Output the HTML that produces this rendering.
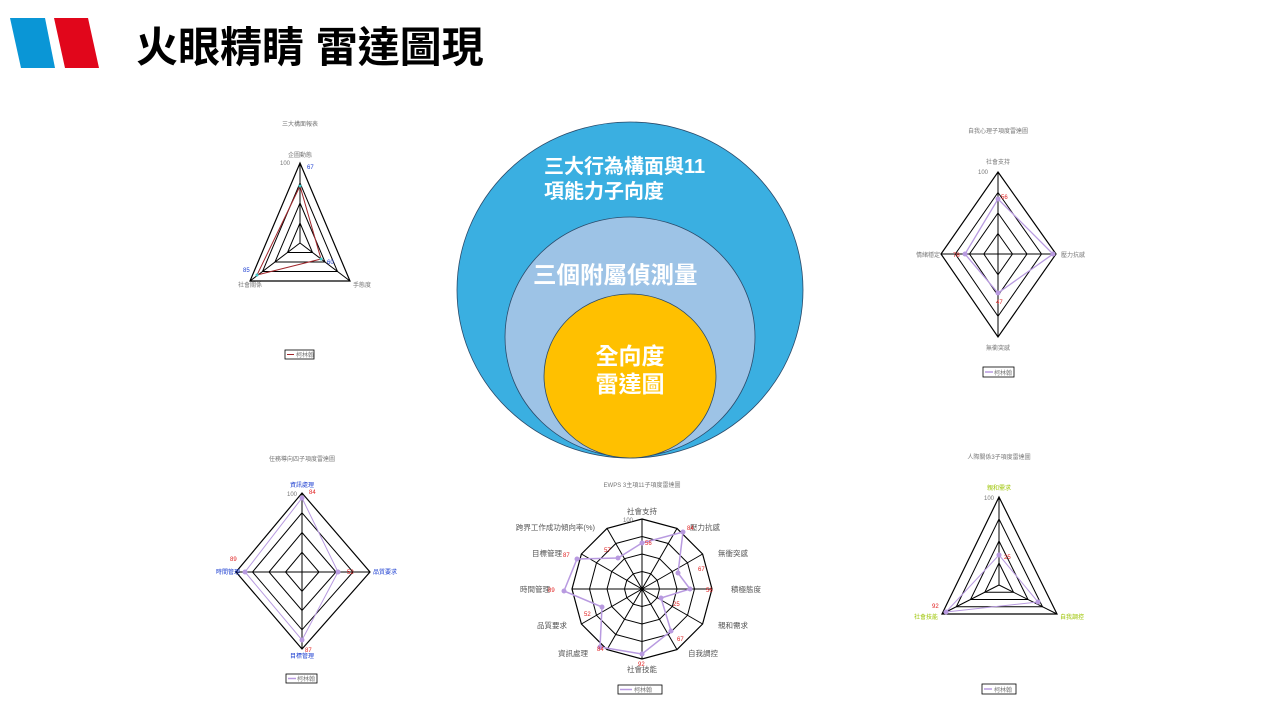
<!DOCTYPE html>
<html><head><meta charset="utf-8"><style>
html,body{margin:0;padding:0;background:#fff;width:1280px;height:720px;overflow:hidden}
svg{display:block}
.t{font-family:"Liberation Sans","Noto Sans CJK TC",sans-serif;}
.s{font-family:"Liberation Sans","Noto Sans CJK TC",sans-serif;font-size:6px;fill:#777}
.m{font-family:"Liberation Sans","Noto Sans CJK TC",sans-serif;font-size:7.5px;fill:#555}
.r{font-family:"Liberation Sans",sans-serif;font-size:6px;fill:#e02020}
.b{font-family:"Liberation Sans","Noto Sans CJK TC",sans-serif;font-size:6px;fill:#1a3cd0}
.y{font-family:"Liberation Sans","Noto Sans CJK TC",sans-serif;font-size:6px;fill:#9cc400}
.w{font-family:"Liberation Sans","Noto Sans CJK TC",sans-serif;font-weight:bold;fill:#fff}
</style></head><body>
<svg id="s" width="1280" height="720" viewBox="0 0 1280 720" xmlns="http://www.w3.org/2000/svg">
<polygon points="10,18 45,18 55,68 21,68" fill="#0a96d6"/>
<polygon points="54,18 88,18 99,68 65,68" fill="#e1061b"/>
<text class="t" x="136" y="62" font-size="42" font-weight="bold" fill="#000">火眼精睛 雷達圖現</text>

<ellipse cx="630" cy="290" rx="173" ry="168" fill="#3aafe1" stroke="#2a4a6a" stroke-width="0.8"/>
<ellipse cx="630" cy="337" rx="125" ry="120" fill="#9dc3e6" stroke="#2a4a6a" stroke-width="0.8"/>
<ellipse cx="630" cy="376" rx="86" ry="82" fill="#ffc000" stroke="#2a4a6a" stroke-width="0.8"/>
<text class="w" x="544" y="173" font-size="20">三大行為構面與11</text>
<text class="w" x="544" y="198" font-size="20">項能力子向度</text>
<text class="w" x="533" y="283" font-size="23.5">三個附屬偵測量</text>
<text class="w" x="630" y="364" font-size="23" text-anchor="middle">全向度</text>
<text class="w" x="630" y="392" font-size="23" text-anchor="middle">雷達圖</text>

<g id="g"></g>

<text class="s" x="300" y="126" text-anchor="middle">三大構面報表</text>
<text class="s" x="300" y="157" text-anchor="middle">企圖動態</text>
<text class="s" x="290" y="165" text-anchor="end">100</text>
<text class="b" x="307" y="169">67</text>
<text class="s" x="238" y="287">社會關係</text>
<text class="s" x="353" y="287">手態度</text>
<text class="b" x="243" y="272">85</text>
<text class="b" x="327" y="264">60</text>
<rect x="285" y="350" width="29" height="9" fill="#fff" stroke="#000" stroke-width="0.8"/>
<line x1="287" y1="354.5" x2="294" y2="354.5" stroke="#a0252a"/>
<text class="s" x="296" y="357">柯林翰</text>

<text class="s" x="998" y="133" text-anchor="middle">自我心理子項度雷達圖</text>
<text class="s" x="998" y="164" text-anchor="middle">社會支持</text>
<text class="s" x="988" y="174" text-anchor="end">100</text>
<text class="s" x="1061" y="257">壓力抗感</text>
<text class="s" x="916" y="257">情緒穩定</text>
<text class="s" x="998" y="350" text-anchor="middle">無衝突感</text>
<text class="r" x="1001" y="199">56</text>
<text class="r" x="953" y="257">78</text>
<text class="r" x="996" y="304">47</text>
<rect x="983" y="367" width="31" height="10" fill="#fff" stroke="#000" stroke-width="0.8"/>
<line x1="985" y1="372" x2="993" y2="372" stroke="#b89ae0" stroke-width="1.5"/>
<text class="s" x="994" y="375">柯林翰</text>

<text class="s" x="302" y="461" text-anchor="middle">任務導向四子項度雷達圖</text>
<text class="b" x="302" y="487" text-anchor="middle">資訊處理</text>
<text class="s" x="297" y="496" text-anchor="end">100</text>
<text class="r" x="309" y="494">84</text>
<text class="b" x="373" y="574">品質要求</text>
<text class="b" x="216" y="574">時間管理</text>
<text class="r" x="230" y="561">89</text>
<text class="r" x="347" y="574">52</text>
<text class="b" x="302" y="658" text-anchor="middle">目標管理</text>
<text class="r" x="305" y="652">87</text>
<rect x="286" y="674" width="31" height="9" fill="#fff" stroke="#000" stroke-width="0.8"/>
<line x1="288" y1="678.5" x2="296" y2="678.5" stroke="#b89ae0" stroke-width="1.5"/>
<text class="s" x="297" y="681">柯林翰</text>

<text class="s" x="999" y="459" text-anchor="middle">人際關係3子項度雷達圖</text>
<text class="y" x="999" y="490" text-anchor="middle">親和需求</text>
<text class="s" x="994" y="500" text-anchor="end">100</text>
<text class="y" x="1060" y="619">自我調控</text>
<text class="y" x="914" y="619">社會技能</text>
<text class="r" x="1004" y="559">25</text>
<text class="r" x="932" y="608">92</text>
<rect x="982" y="684" width="34" height="10" fill="#fff" stroke="#000" stroke-width="0.8"/>
<line x1="984" y1="689" x2="992" y2="689" stroke="#b89ae0" stroke-width="1.5"/>
<text class="s" x="994" y="692">柯林翰</text>

<text class="s" x="642" y="487" text-anchor="middle">EWPS 3主項11子項度雷達圖</text>
<text class="m" x="642" y="514" text-anchor="middle">社會支持</text>
<text class="m" x="690" y="530">壓力抗感</text>
<text class="m" x="718" y="556">無衝突感</text>
<text class="m" x="731" y="592">積極態度</text>
<text class="m" x="718" y="628">親和需求</text>
<text class="m" x="688" y="656">自我調控</text>
<text class="m" x="642" y="672" text-anchor="middle">社會技能</text>
<text class="m" x="588" y="656" text-anchor="end">資訊處理</text>
<text class="m" x="567" y="628" text-anchor="end">品質要求</text>
<text class="m" x="550" y="592" text-anchor="end">時間管理</text>
<text class="m" x="562" y="556" text-anchor="end">目標管理</text>
<text class="m" x="595" y="530" text-anchor="end">跨界工作成功傾向率(%)</text>
<text class="s" x="633" y="522" text-anchor="end">100</text>
<text class="r" x="645" y="545">56</text>
<text class="r" x="687" y="530">84</text>
<text class="r" x="698" y="571">67</text>
<text class="r" x="706" y="592">56</text>
<text class="r" x="673" y="606">25</text>
<text class="r" x="677" y="641">67</text>
<text class="r" x="638" y="666">92</text>
<text class="r" x="597" y="651">84</text>
<text class="r" x="584" y="616">52</text>
<text class="r" x="548" y="592">89</text>
<text class="r" x="563" y="557">87</text>
<text class="r" x="604" y="552">57</text>
<rect x="618" y="685" width="44" height="9" fill="#fff" stroke="#000" stroke-width="0.8"/>
<line x1="620" y1="689.5" x2="632" y2="689.5" stroke="#b89ae0" stroke-width="1.5"/>
<text class="s" x="634" y="692">柯林翰</text>
</svg>
<script>
var g=document.getElementById('g'),NS='http://www.w3.org/2000/svg';
function el(t,a){var e=document.createElementNS(NS,t);for(var k in a)e.setAttribute(k,a[k]);g.appendChild(e);return e;}
function radar(c,v,data,col,w,mk){
  var pts=function(s){return v.map(function(p){return (c[0]+(p[0]-c[0])*s).toFixed(1)+','+(c[1]+(p[1]-c[1])*s).toFixed(1)}).join(' ')};
  [0.25,0.5,0.75,1].forEach(function(s){el('polygon',{points:pts(s),fill:'none',stroke:'#000','stroke-width':s==1?1.2:1});});
  v.forEach(function(p){el('line',{x1:c[0],y1:c[1],x2:p[0],y2:p[1],stroke:'#000','stroke-width':1});});
  if(data.length){
  el('polygon',{points:data.map(function(p){return p.join(',')}).join(' '),fill:'none',stroke:col,'stroke-width':w});
  data.forEach(function(p){el('circle',{cx:p[0],cy:p[1],r:mk,fill:col==='#a0252a'?'#40c8c8':col});});}
}
radar([300,243],[[300,163],[350,281],[250,281]],[[300,186],[321,259],[257,275]],'#a0252a',1,1.5);
radar([998,254],[[998,172],[1056,254],[998,337],[941,254]],[[998,199],[1053,254],[998,293],[965,254]],'#b89ae0',1.3,2.5);
radar([302,572],[[302,493],[370,572],[302,649],[236,572]],[[302,498],[338,572],[302,640],[245,572]],'#b89ae0',1,2.5);
radar([999,585],[[999,497],[1057,614],[942,614]],[[999,555],[1038,602],[946,612]],'#b89ae0',1,2.5);
var c=[642,589],R=70,n=12,V=[];
for(var i=0;i<n;i++){var a=-Math.PI/2+2*Math.PI*i/n;V.push([c[0]+R*Math.cos(a),c[1]+R*Math.sin(a)]);}
var data=[[642,543],[683,532],[678,573],[690,589],[661,598],[671,631],[642,654],[600,647],[602,607],[564,591],[577,559],[618,558]];
radar(c,V,data,'#b89ae0',1.5,2.5);
</script>
</body></html>
